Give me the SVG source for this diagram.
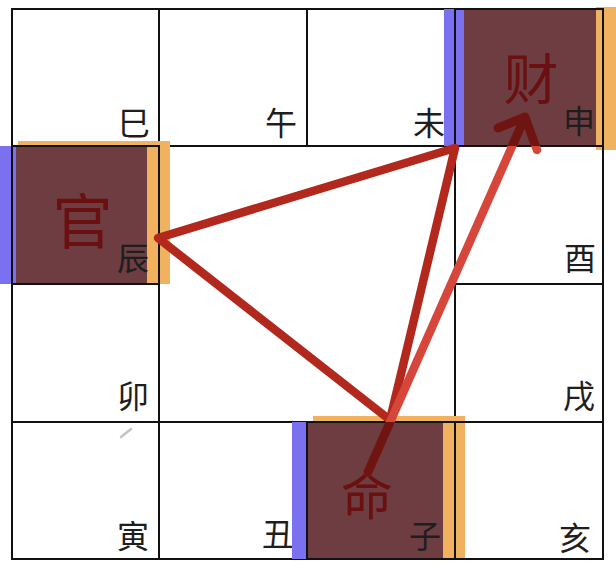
<svg xmlns="http://www.w3.org/2000/svg" xmlns:xlink="http://www.w3.org/1999/xlink" width="616" height="568" viewBox="0 0 616 568">
<style>
.cell{fill:none;stroke:#111;stroke-width:2}
.lbl{font-family:"Noto Sans CJK SC","Noto Sans CJK JP",sans-serif;font-size:32px;fill:#1e1e1e;text-anchor:end}
.big{font-family:"Noto Sans CJK SC","Noto Sans CJK JP",sans-serif;font-weight:400;fill:#6b1010;text-anchor:middle}
.maroon{fill:#6d3d42}
.blue{fill:#7b70f0}
.orange{fill:#f0b25e}
.tri{fill:none;stroke:#b3281d;stroke-width:8.5;stroke-linecap:round;stroke-linejoin:round}
.arr{fill:none;stroke:#d6463a;stroke-width:8.5;stroke-linecap:round;stroke-linejoin:round}
.dark{fill:none;stroke:#6e1512;stroke-width:9;stroke-linecap:round;stroke-linejoin:round}
</style>
<defs>
<path id="arrowPath" d="M368,472 L525,117 M498,128 L525,117 L537,150"/>
<clipPath id="hlClip">
<rect x="464" y="9" width="132" height="137"/>
<rect x="307" y="422" width="136" height="137"/>
</clipPath>
</defs>
<rect width="616" height="568" fill="#ffffff"/>
<g id="cell-si">
<rect class="cell" x="12" y="9" width="147" height="137"/>
<text class="lbl" x="150" y="135">巳</text>
</g>
<g id="cell-wu">
<rect class="cell" x="159" y="9" width="148" height="137"/>
<text class="lbl" x="297" y="135">午</text>
</g>
<g id="cell-wei">
<rect class="cell" x="307" y="9" width="148" height="137"/>
<text class="lbl" x="445" y="135">未</text>
</g>
<g id="cell-shen">
<rect class="blue" x="444" y="9" width="20" height="137"/>
<rect class="maroon" x="464" y="9" width="132" height="137"/>
<rect class="orange" x="596" y="7" width="20" height="143"/>
<rect class="cell" x="455" y="9" width="148" height="137"/>
<text class="lbl" x="595" y="133">申</text>
<text class="big" x="531" y="99" font-size="55">财</text>
</g>
<g id="cell-chen">
<rect class="blue" x="0" y="146" width="16" height="138"/>
<rect class="maroon" x="16" y="146" width="131" height="138"/>
<rect class="orange" x="18" y="141" width="152" height="6"/>
<rect class="orange" x="147" y="141" width="23" height="143"/>
<rect class="cell" x="12" y="146" width="147" height="138"/>
<text class="lbl" x="149" y="270">辰</text>
<text class="big" x="82.5" y="244" font-size="60">官</text>
</g>
<g id="cell-you">
<rect class="cell" x="455" y="146" width="148" height="138"/>
<text class="lbl" x="596" y="270">酉</text>
</g>
<g id="cell-mao">
<rect class="cell" x="12" y="284" width="147" height="138"/>
<text class="lbl" x="149" y="408">卯</text>
</g>
<g id="cell-xu">
<rect class="cell" x="455" y="284" width="148" height="138"/>
<text class="lbl" x="595" y="408">戌</text>
</g>
<g id="cell-yin">
<rect class="cell" x="12" y="422" width="147" height="137"/>
<text class="lbl" x="149" y="548">寅</text>
<line x1="121" y1="437" x2="131" y2="429" stroke="#c4c4c4" stroke-width="2.5" stroke-linecap="round"/>
</g>
<g id="cell-chou">
<rect class="cell" x="159" y="422" width="148" height="137"/>
<text class="lbl" x="294" y="546">丑</text>
</g>
<g id="cell-zi">
<rect class="blue" x="292" y="422" width="15" height="137"/>
<rect class="maroon" x="307" y="422" width="136" height="137"/>
<rect class="orange" x="313" y="416" width="152" height="7"/>
<rect class="orange" x="443" y="416" width="22" height="143"/>
<rect class="cell" x="307" y="422" width="148" height="137"/>
<text class="lbl" x="441" y="548">子</text>
<text class="big" x="367" y="515" font-size="52">命</text>
</g>
<g id="cell-hai">
<rect class="cell" x="455" y="422" width="148" height="137"/>
<text class="lbl" x="591" y="550">亥</text>
</g>
<g id="connectors">
<path class="tri" d="M158,238 L455,148 L390,420 Z"/>
<use xlink:href="#arrowPath" href="#arrowPath" class="arr"/>
<g clip-path="url(#hlClip)">
<use xlink:href="#arrowPath" href="#arrowPath" class="dark"/>
</g>
</g>
</svg>
